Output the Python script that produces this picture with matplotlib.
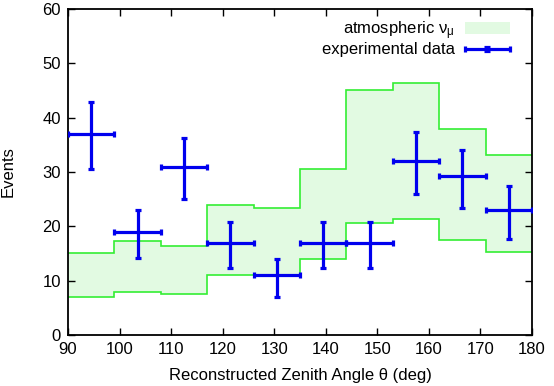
import matplotlib
matplotlib.use("Agg")
import matplotlib.pyplot as plt
from matplotlib.patches import Patch
from matplotlib.legend_handler import HandlerErrorbar
import numpy as np

plt.rcParams['font.family'] = ['Liberation Sans', 'DejaVu Sans']
plt.rcParams['mathtext.fontset'] = 'custom'
plt.rcParams['mathtext.rm'] = 'Liberation Sans'
plt.rcParams['mathtext.it'] = 'Liberation Sans'

# Data
bin_edges = [90, 99, 108, 117, 126, 135, 144, 153, 162, 171, 180]
band_upper = [15.1, 17.3, 16.4, 24.0, 23.3, 30.5, 45.0, 46.3, 37.9, 33.1]
band_lower = [7.0, 8.0, 7.5, 11.1, 11.1, 14.0, 20.7, 21.3, 17.4, 15.2]

data_x = [94.5, 103.5, 112.5, 121.5, 130.5, 139.5, 148.5, 157.5, 166.5, 175.5]
data_y = [37.0, 19.0, 31.0, 17.0, 11.0, 17.0, 17.0, 32.0, 29.2, 23.0]
err_up = [5.8, 4.0, 5.3, 3.8, 2.9, 3.8, 3.8, 5.3, 4.9, 4.4]
err_dn = [6.5, 4.9, 6.0, 4.7, 4.0, 4.7, 4.7, 6.0, 5.9, 5.4]
x_halfwidth = [4.5] * 10

fig = plt.figure(figsize=(5.54, 3.86), dpi=100)
ax = fig.add_axes([0.1227, 0.1321, 0.8376, 0.8446])

fill_c = '#e2fae2'
line_c = '#33ee33'
blue = '#0000ee'
fs = 12

ax.stairs(band_upper, bin_edges, baseline=band_lower, fill=True,
          facecolor=fill_c, edgecolor='none', zorder=1)
ax.stairs(band_upper, bin_edges, baseline=None, color=line_c, lw=1.2, zorder=2)
ax.stairs(band_lower, bin_edges, baseline=None, color=line_c, lw=1.2, zorder=2)

eb = ax.errorbar(data_x, data_y, yerr=[err_dn, err_up], xerr=x_halfwidth,
                 fmt='none', ecolor=blue, elinewidth=2.3, capsize=2.5,
                 capthick=2.3, zorder=3)

ax.set_xlim(90, 180)
ax.set_ylim(0, 60)
ax.set_xticks(np.arange(90, 181, 10))
ax.set_yticks(np.arange(0, 61, 10))
ax.tick_params(direction='in', length=5, width=1, top=True, right=True,
               labelsize=fs, colors='black', pad=5)
for s in ax.spines.values():
    s.set_linewidth(1.3)

ax.set_xlabel('Reconstructed Zenith Angle θ (deg)', fontsize=fs, va='center')
ax.set_ylabel('Events', fontsize=fs, va='center')
ax.xaxis.set_label_coords(0.5, -0.125)
ax.yaxis.set_label_coords(-0.128, 0.5)

handles = [Patch(facecolor=fill_c, edgecolor='none'), eb]
labels = [r'atmospheric $\mathrm{\nu_\mu}$', 'experimental data']
hl = 2.75
leg = ax.legend(handles, labels, loc='upper right', markerfirst=False,
                frameon=False, fontsize=fs, handlelength=hl,
                borderaxespad=0.2, handletextpad=0.6, labelspacing=0.05,
                bbox_to_anchor=(0.975, 1.0),
                handler_map={type(eb): HandlerErrorbar(xerr_size=hl / 2 * 0.98,
                                                       yerr_size=0.12)})

fig.savefig('out.png', dpi=100)
